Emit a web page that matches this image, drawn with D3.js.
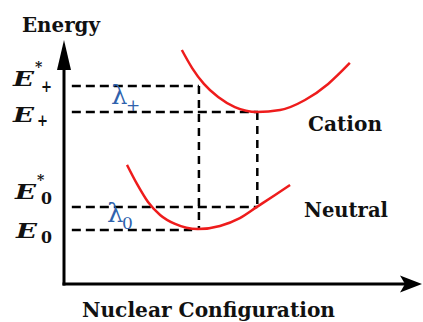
<!DOCTYPE html>
<html>
<head>
<meta charset="utf-8">
<script src="https://cdn.jsdelivr.net/npm/d3@7"></script>
<style>
  body { margin: 0; background: #fff; }
  svg { display: block; }
</style>
</head>
<body>
<div id="chart"></div>
<script>
// potential energy curves (nuclear configuration q, energy E), arbitrary units
var cationQ = [3.31, 3.60, 3.93, 4.33, 4.80, 5.42, 6.07, 6.77, 7.42, 8.03];
var cationE = [9.59, 8.85, 8.20, 7.66, 7.25, 7.05, 7.13, 7.54, 8.20, 9.06];
var neutralQ = [1.77, 2.05, 2.36, 2.70, 3.12, 3.76, 4.38, 4.94, 5.42, 5.93, 6.35];
var neutralE = [4.88, 4.10, 3.36, 2.83, 2.46, 2.25, 2.38, 2.70, 3.16, 3.65, 4.06];

// energy levels and where their dashed guides end
var levelNames = ["E*+", "E+", "E*0", "E0"];
var levelE = [8.11, 7.05, 3.16, 2.21];
var levelEndQ = [3.79, 5.45, 5.43, 3.60];

// vertical transitions
var vertQ = [3.79, 5.43];
var vertFrom = [8.11, 7.05];
var vertTo = [2.26, 3.16];

var curveNames = ["Cation", "Neutral"];

var serif = "'DejaVu Serif', 'Noto Serif', serif";

var width = 423, height = 322;
var svg = d3.select("#chart").append("svg")
  .attr("width", width)
  .attr("height", height)
  .style("font-family", serif);

var x = d3.scaleLinear().domain([0, 10]).range([64, 420]);
var y = d3.scaleLinear().domain([0, 10]).range([284, 40]);

// axes with arrow heads
svg.append("line")
  .attr("x1", x(0)).attr("y1", y(0) + 1.5)
  .attr("x2", x(0)).attr("y2", y(10) + 20)
  .attr("stroke", "#000").attr("stroke-width", 3);
svg.append("path")
  .attr("d", `M${x(0)},${y(10)} L${x(0) - 7},${y(10) + 30} L${x(0) + 7},${y(10) + 30} Z`)
  .attr("fill", "#000");

svg.append("line")
  .attr("x1", x(0) - 1.5).attr("y1", y(0))
  .attr("x2", x(10) - 15).attr("y2", y(0))
  .attr("stroke", "#000").attr("stroke-width", 3);
svg.append("path")
  .attr("d", `M${x(10) + 2},${y(0)} L${x(10) - 20},${y(0) - 8.5} L${x(10) - 15},${y(0)} L${x(10) - 20},${y(0) + 8.5} Z`)
  .attr("fill", "#000");

// dashed energy levels
levelE.forEach(function(e, i) {
  svg.append("line")
    .attr("x1", x(0.22)).attr("x2", x(levelEndQ[i]))
    .attr("y1", y(e)).attr("y2", y(e))
    .attr("stroke", "#000").attr("stroke-width", 2.5)
    .attr("stroke-dasharray", "9,5");
});

vertQ.forEach(function(q, i) {
  svg.append("line")
    .attr("x1", x(q)).attr("x2", x(q))
    .attr("y1", y(vertFrom[i])).attr("y2", y(vertTo[i]))
    .attr("stroke", "#000").attr("stroke-width", 2.5)
    .attr("stroke-dasharray", "8,6");
});

// red potential curves
var line = d3.line()
  .x(function(d) { return x(d[0]); })
  .y(function(d) { return y(d[1]); })
  .curve(d3.curveMonotoneX);

[d3.zip(cationQ, cationE), d3.zip(neutralQ, neutralE)].forEach(function(pts) {
  svg.append("path")
    .attr("d", line(pts))
    .attr("fill", "none")
    .attr("stroke", "#ee1c1c")
    .attr("stroke-width", 2.5);
});

// text
function addText(str, px, py, size, opts) {
  opts = opts || {};
  var t = svg.append("text")
    .attr("x", px).attr("y", py)
    .style("font-family", serif)
    .style("font-size", size + "px")
    .style("font-weight", opts.weight || "bold")
    .style("font-style", opts.italic ? "italic" : "normal")
    .attr("fill", opts.fill || "#111")
    .text(str);
  if (opts.len) {
    t.attr("textLength", opts.len).attr("lengthAdjust", "spacingAndGlyphs");
  }
  return t;
}
addText("Energy", 22, 32, 20, { len: 78 });
addText("Nuclear Configuration", 82, 317, 21, { len: 253 });
addText(curveNames[0], 308, 131, 20, { len: 74 });
addText(curveNames[1], 304, 217, 20, { len: 84 });

// level labels on the left
var labelPos = [
  { ex: 13, ey: 86, sx: 41, sy: 92, star: true },
  { ex: 13, ey: 122, sx: 37, sy: 126, star: false },
  { ex: 15, ey: 199, sx: 41, sy: 204, star: true },
  { ex: 16, ey: 238, sx: 41, sy: 243, star: false }
];
levelNames.forEach(function(name, i) {
  var p = labelPos[i];
  addText("E", p.ex, p.ey, 21, { italic: true, len: 21 });
  if (p.star) {
    addText("*", p.ex + 22, p.ey - 14, 14);
  }
  addText(name.slice(-1), p.sx, p.sy, 17, { len: 11 });
});

// reorganisation energies
var lambdaSub = ["+", "0"];
var lambdaPos = [{ x: 111, y: 104 }, { x: 107, y: 222 }];
lambdaSub.forEach(function(s, i) {
  var p = lambdaPos[i];
  addText("\u03bb", p.x, p.y, 26, { weight: "normal", fill: "#2f62ad" });
  addText(s, p.x + 15, p.y + 7, 17, { weight: "normal", fill: "#2f62ad" });
});
</script>
</body>
</html>
